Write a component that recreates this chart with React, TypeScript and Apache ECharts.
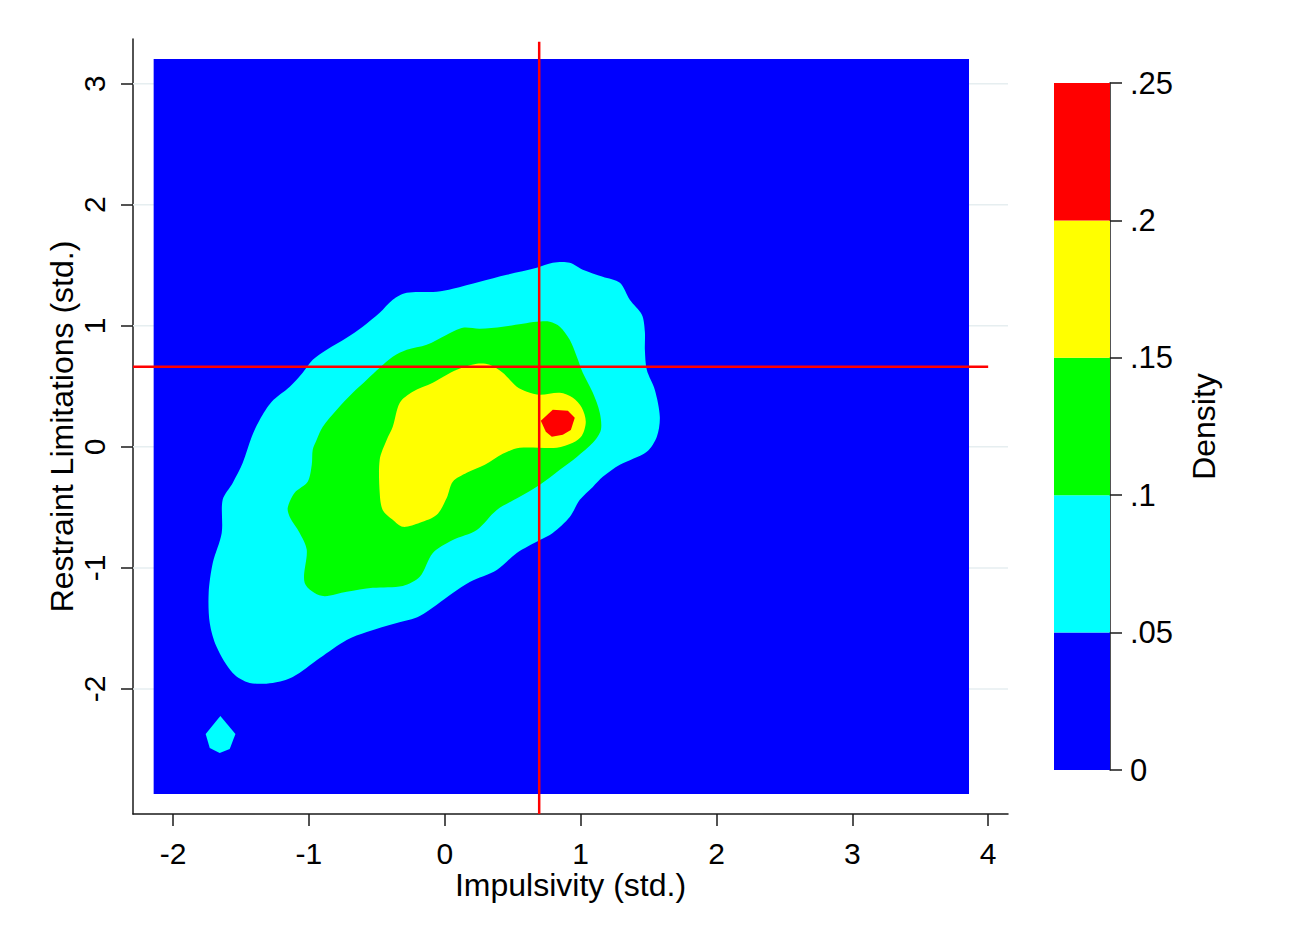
import React, { useEffect, useRef } from "react";
import * as echarts from "echarts";

// ---- axes ----
const xTicks = [-2, -1, 0, 1, 2, 3, 4];
const yTicks = [-2, -1, 0, 1, 2, 3];
const xRange = [-2.295, 4.146];
const yRange = [-3.033, 3.369];
const densityTicks = [0, 0.05, 0.1, 0.15, 0.2, 0.25];
const levelColors = ["#0000FF", "#00FFFF", "#00FF00", "#FFFF00", "#FF0000"];

// ---- estimation field (lowest band) ----
const fieldX = [-2.143, 3.859];
const fieldY = [-2.868, 3.204];

// ---- reference lines ----
const refX = 0.695;
const refY = 0.661;
const refVLineY = [-3.033, 3.347];
const refHLineX = [-2.295, 4.0];

// ---- contour polygons (x, y in std. units) ----
const contour05: number[][] = [
  [0.795, 1.521], [0.92, 1.521], [1.016, 1.463], [1.163, 1.405], [1.289, 1.355],
  [1.362, 1.215], [1.451, 1.091], [1.473, 0.95], [1.473, 0.802], [1.487, 0.636],
  [1.546, 0.471], [1.583, 0.248], [1.561, 0.083], [1.487, -0.041], [1.289, -0.149],
  [1.163, -0.248], [1.09, -0.331], [0.994, -0.438], [0.92, -0.579], [0.795, -0.711],
  [0.7, -0.769], [0.53, -0.876], [0.383, -1.017], [0.184, -1.116], [0.059, -1.207],
  [-0.184, -1.397], [-0.353, -1.455], [-0.574, -1.529], [-0.722, -1.595], [-0.92, -1.744],
  [-1.119, -1.901], [-1.267, -1.95], [-1.436, -1.95], [-1.561, -1.868], [-1.679, -1.653],
  [-1.73, -1.455], [-1.738, -1.207], [-1.708, -0.959], [-1.642, -0.711], [-1.635, -0.438],
  [-1.561, -0.298], [-1.487, -0.132], [-1.421, 0.083], [-1.362, 0.223], [-1.274, 0.372],
  [-1.141, 0.496], [-1.046, 0.612], [-0.972, 0.719], [-0.869, 0.802], [-0.722, 0.901],
  [-0.604, 0.992], [-0.479, 1.107], [-0.383, 1.215], [-0.28, 1.273], [-0.059, 1.281],
  [0.059, 1.306], [0.258, 1.364], [0.457, 1.421], [0.677, 1.479],
];
const contour05Islet: number[][] = [
  [-1.652, -2.223], [-1.541, -2.372], [-1.583, -2.496], [-1.657, -2.529],
  [-1.73, -2.488], [-1.76, -2.372],
];
const contour10: number[][] = [
  [0.677, 1.033], [0.773, 1.033], [0.847, 0.992], [0.92, 0.884], [0.972, 0.744],
  [1.016, 0.612], [1.09, 0.446], [1.141, 0.281], [1.149, 0.14], [1.09, 0.033],
  [0.972, -0.083], [0.847, -0.19], [0.7, -0.314], [0.552, -0.413], [0.383, -0.521],
  [0.236, -0.686], [0.059, -0.769], [-0.088, -0.876], [-0.184, -1.074], [-0.309, -1.149],
  [-0.53, -1.165], [-0.722, -1.198], [-0.906, -1.231], [-1.031, -1.124], [-1.016, -0.851],
  [-1.068, -0.711], [-1.141, -0.579], [-1.156, -0.504], [-1.105, -0.38], [-1.009, -0.289],
  [-0.979, -0.149], [-0.972, -0.025], [-0.943, 0.058], [-0.898, 0.165], [-0.795, 0.306],
  [-0.677, 0.446], [-0.574, 0.554], [-0.479, 0.653], [-0.383, 0.744], [-0.28, 0.802],
  [-0.133, 0.843], [0.015, 0.926], [0.133, 0.983], [0.258, 0.975], [0.427, 0.992],
  [0.574, 1.017],
];
const contour15: number[][] = [
  [0.236, 0.686], [0.331, 0.678], [0.427, 0.612], [0.53, 0.496], [0.604, 0.455],
  [0.7, 0.43], [0.847, 0.446], [0.943, 0.405], [1.009, 0.322], [1.038, 0.207],
  [1.009, 0.091], [0.943, 0.033], [0.825, -0.008], [0.552, -0.008], [0.427, -0.058],
  [0.295, -0.149], [0.162, -0.215], [0.059, -0.289], [0.015, -0.421], [-0.059, -0.562],
  [-0.184, -0.628], [-0.309, -0.661], [-0.383, -0.603], [-0.457, -0.521], [-0.479, -0.38],
  [-0.479, -0.107], [-0.427, 0.058], [-0.383, 0.165], [-0.331, 0.364], [-0.236, 0.455],
  [-0.088, 0.529], [0.088, 0.636],
];
const contour20: number[][] = [
  [0.707, 0.215], [0.795, 0.306], [0.906, 0.298], [0.957, 0.24], [0.928, 0.14],
  [0.869, 0.099], [0.788, 0.083], [0.744, 0.124],
];

const FONT = "'Liberation Sans', Arial, Helvetica, sans-serif";

export default function App() {
  const ref = useRef<HTMLDivElement>(null);

  useEffect(() => {
    if (!ref.current) return;
    const chart = echarts.init(ref.current, null, { renderer: "svg" });

    const polygons = [
      { pts: contour05, color: levelColors[1], smooth: 0.3 },
      { pts: contour05Islet, color: levelColors[1], smooth: 0 },
      { pts: contour10, color: levelColors[2], smooth: 0.3 },
      { pts: contour15, color: levelColors[3], smooth: 0.3 },
      { pts: contour20, color: levelColors[4], smooth: 0 },
    ];

    const axisLineStyle = { color: "#1a1a1a", width: 1.5 };

    const option: any = {
      animation: false,
      backgroundColor: "#ffffff",
      grid: [
        { left: 133, top: 39, width: 875, height: 775 },
        { left: 1054, top: 83, width: 56, height: 687 },
      ],
      xAxis: [
        {
          type: "value",
          gridIndex: 0,
          min: xRange[0],
          max: xRange[1],
          name: "Impulsivity (std.)",
          nameLocation: "middle",
          nameGap: 55,
          nameMoveOverlap: false,
          nameTextStyle: { fontSize: 32, color: "#000", fontFamily: FONT },
          axisLine: { show: true, onZero: false, lineStyle: axisLineStyle },
          axisTick: { show: true, customValues: xTicks, length: 12, lineStyle: axisLineStyle },
          axisLabel: { customValues: xTicks, fontSize: 30, color: "#000", margin: 24, fontFamily: FONT },
          splitLine: { show: false },
        },
        {
          type: "value",
          gridIndex: 1,
          min: 0,
          max: 1,
          show: false,
          axisLine: { show: false, onZero: false },
          axisTick: { show: false },
          axisLabel: { show: false },
          splitLine: { show: false },
        },
      ],
      yAxis: [
        {
          type: "value",
          gridIndex: 0,
          min: yRange[0],
          max: yRange[1],
          name: "Restraint Limitations (std.)",
          nameLocation: "middle",
          nameGap: 55,
          nameMoveOverlap: false,
          nameTextStyle: { fontSize: 32, color: "#000", fontFamily: FONT },
          axisLine: { show: true, onZero: false, lineStyle: axisLineStyle },
          axisTick: { show: true, customValues: yTicks, length: 12, lineStyle: axisLineStyle },
          axisLabel: { customValues: yTicks, rotate: 90, fontSize: 30, color: "#000", margin: 24, fontFamily: FONT },
          splitLine: { show: false },
        },
        {
          type: "value",
          gridIndex: 1,
          position: "right",
          min: 0,
          max: 0.25,
          interval: 0.05,
          name: "Density",
          nameLocation: "middle",
          nameGap: 78,
          nameRotate: 90,
          nameMoveOverlap: false,
          nameTextStyle: { fontSize: 32, color: "#000", fontFamily: FONT },
          axisLine: { show: true, onZero: false, lineStyle: axisLineStyle },
          axisTick: { show: true, inside: false, length: 12, lineStyle: axisLineStyle },
          axisLabel: {
            fontSize: 31,
            color: "#000",
            margin: 20,
            fontFamily: FONT,
            formatter: (v: number) => (v === 0 ? "0" : String(+v.toFixed(2)).replace(/^0/, "")),
          },
          splitLine: { show: false },
        },
      ],
      series: [
        {
          // horizontal grid lines
          type: "custom",
          xAxisIndex: 0,
          yAxisIndex: 0,
          z: 1,
          silent: true,
          data: yTicks.map((v) => [xRange[0], v]),
          renderItem: (_p: any, api: any) => {
            const v = api.value(1);
            const a = api.coord([xRange[0], v]);
            const b = api.coord([xRange[1], v]);
            return {
              type: "line",
              shape: { x1: a[0], y1: a[1], x2: b[0], y2: b[1] },
              style: { stroke: "#E6EEF0", lineWidth: 1.5 },
            };
          },
        },
        {
          // base density band (estimation field)
          type: "custom",
          xAxisIndex: 0,
          yAxisIndex: 0,
          z: 2,
          silent: true,
          data: [[fieldX[0], fieldY[0], fieldX[1], fieldY[1]]],
          renderItem: (_p: any, api: any) => {
            const a = api.coord([api.value(0), api.value(3)]);
            const b = api.coord([api.value(2), api.value(1)]);
            return {
              type: "rect",
              shape: { x: a[0], y: a[1], width: b[0] - a[0], height: b[1] - a[1] },
              style: { fill: levelColors[0], stroke: "none", lineWidth: 0 },
            };
          },
        },
        {
          // contour bands
          type: "custom",
          xAxisIndex: 0,
          yAxisIndex: 0,
          z: 3,
          silent: true,
          data: polygons.map((p) => [p.pts[0][0], p.pts[0][1]]),
          renderItem: (params: any, api: any) => {
            const poly = polygons[params.dataIndex];
            const points = poly.pts.map((pt) => api.coord(pt));
            return {
              type: "polygon",
              shape: { points, smooth: poly.smooth },
              style: { fill: poly.color, stroke: "none", lineWidth: 0 },
            };
          },
        },
        {
          type: "line",
          xAxisIndex: 0,
          yAxisIndex: 0,
          z: 4,
          silent: true,
          symbol: "none",
          lineStyle: { color: "#FF0000", width: 2.5 },
          data: [
            [refX, refVLineY[0]],
            [refX, refVLineY[1]],
          ],
        },
        {
          type: "line",
          xAxisIndex: 0,
          yAxisIndex: 0,
          z: 4,
          silent: true,
          symbol: "none",
          lineStyle: { color: "#FF0000", width: 2.5 },
          data: [
            [refHLineX[0], refY],
            [refHLineX[1], refY],
          ],
        },
        {
          // colour legend bar
          type: "custom",
          xAxisIndex: 1,
          yAxisIndex: 1,
          z: 2,
          silent: true,
          data: densityTicks.slice(0, -1).map((lo, i) => [0, lo, 1, densityTicks[i + 1]]),
          renderItem: (params: any, api: any) => {
            const a = api.coord([api.value(0), api.value(3)]);
            const b = api.coord([api.value(2), api.value(1)]);
            return {
              type: "rect",
              shape: { x: a[0], y: a[1], width: b[0] - a[0], height: b[1] - a[1] },
              style: { fill: levelColors[params.dataIndex], stroke: "none", lineWidth: 0 },
            };
          },
        },
      ],
    };

    chart.setOption(option);
    return () => chart.dispose();
  }, []);

  return (
    <div
      ref={ref}
      style={{ position: "fixed", left: 0, top: 0, width: 1290, height: 935, background: "#fff" }}
    />
  );
}
